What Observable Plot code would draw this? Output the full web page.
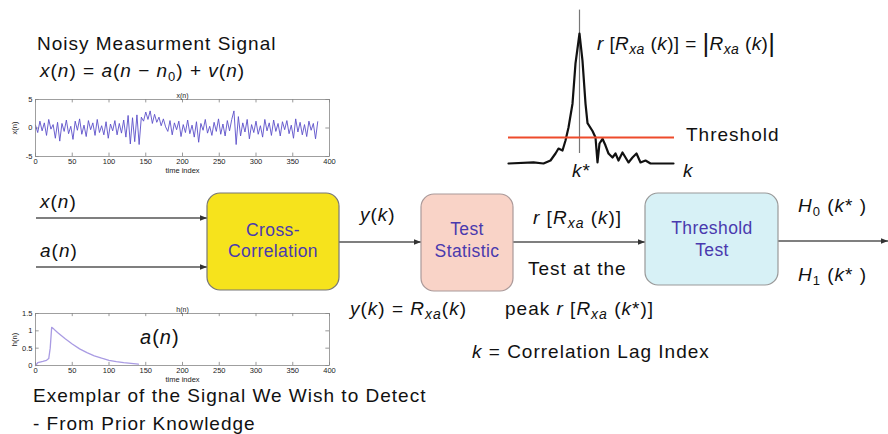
<!DOCTYPE html>
<html><head><meta charset="utf-8">
<script src="https://cdn.jsdelivr.net/npm/d3@7"></script>
<script src="https://cdn.jsdelivr.net/npm/@observablehq/plot@0.6"></script>
<style>
html,body{margin:0;padding:0;background:#fff;}
#wrap{position:relative;width:888px;height:434px;overflow:hidden;font-family:"Liberation Sans",Arial,sans-serif;}
.pl{position:absolute;}
#ov{position:absolute;left:0;top:0;}
#ov text{font-family:"Liberation Sans",Arial,sans-serif;fill:#111;}
</style></head>
<body><div id="wrap"></div>
<script>
// ---- data ----
const xStep = 3; // samples between read values of x(n)
const xSignal = [
 0.5,-0.8,1.2,-0.5,0.9,-1.3,1.5,-0.2,0.6,-1.8,
 1.0,-2.3,0.8,-0.6,1.4,-1.0,0.3,-2.0,1.2,-0.4,
 1.6,-1.1,0.5,-1.5,1.3,-0.3,0.9,-1.3,1.5,-0.8,
 0.4,-1.2,1.1,-1.8,0.7,-0.5,1.3,-1.2,0.8,-0.9,
 1.4,
 -1.6,2.2,-2.8,1.8,-2.4,2.3,-2.9,1.9,
 1.2,2.8,1.5,3.0,0.8,2.4,1.0,1.9,0.4,1.6,0.2,
 -0.6,1.3,-1.2,0.9,-0.3,1.2,-1.5,0.6,-0.8,1.4,
 -1.0,0.5,-1.6,1.1,-2.5,0.8,-0.4,1.5,-0.9,0.3,
 -1.3,1.0,-0.6,1.6,-1.1,0.7,-1.4,1.3,-0.5,1.5,
 3.0,-2.9,2.0,-1.4,0.9,-0.7,1.5,-1.9,0.6,-0.8,
 1.2,-1.1,0.4,-1.6,1.5,-0.5,0.9,-1.3,1.4,-0.6,
 0.8,-1.4,1.1,-0.3,1.3,-1.0,0.5,-1.8,1.6,-0.7,
 1.0,-1.2,0.6,-1.5,1.2,-0.4,0.8,-1.9,1.1
];
const hIndex = [0,3,6,10,15,18,20,22,25,30,40,50,60,70,80,90,100,110,120,130,140];
const hValues = [0,0.08,0.1,0.12,0.15,0.2,0.5,1.1,1.05,0.95,0.78,0.62,0.48,0.37,0.28,0.21,0.15,0.11,0.08,0.06,0.04];
const kLag = [-71,-46,-36,-29,-24,-21,-17,-14,-11,-7,-4,0,3,6,8,13,16,18,20,23,26,29,33,36,39,43,46,49,53,57,61,66,71,84,94];
const rVals = [0,0.008,0,0.023,0.077,0.115,0.1,0.177,0.277,0.46,0.77,1,0.79,0.46,0.31,0.25,0.2,0.008,0.154,0.19,0.138,0.077,0.046,0.077,0.023,0.085,0.046,0.008,0.046,0.077,0.008,0.023,0,0,0];
const threshold = 0.2;
const timeTicks = [0,50,100,150,200,250,300,350,400];
const xTicksY = [-5,0,5];
const hTicksY = [0,0.5,1,1.5];

const wrap = document.getElementById("wrap");
function place(node, left, top){ const d=document.createElement("div"); d.className="pl"; d.style.left=left+"px"; d.style.top=top+"px"; d.appendChild(node); wrap.appendChild(d); }

function smallChart(data, xv, yv, yDomain, yTicks, title, color, h, mt, mb, sw){
  const yFmt = d => String(d);
  const y0 = yDomain[0], y1 = yDomain[1], tl = (y1-y0)*0.06;
  return Plot.plot({
    width:340, height:h, marginLeft:35, marginRight:11, marginTop:mt, marginBottom:mb,
    style:{fontFamily:"Liberation Sans, Arial, sans-serif", fontSize:"7px", background:"transparent", color:"#222"},
    x:{domain:[0,400]}, y:{domain:yDomain},
    marks:[
      Plot.ruleX(timeTicks,{y1:y0,y2:y0+tl,stroke:"#555",strokeWidth:0.6}),
      Plot.ruleX(timeTicks,{y1:y1,y2:y1-tl,stroke:"#555",strokeWidth:0.6}),
      Plot.ruleY(yTicks,{x1:0,x2:5,stroke:"#555",strokeWidth:0.6}),
      Plot.ruleY(yTicks,{x1:395,x2:400,stroke:"#555",strokeWidth:0.6}),
      Plot.line(data,{x:xv,y:yv,stroke:color,strokeWidth:sw}),
      Plot.frame({stroke:"#888",strokeWidth:0.8}),
      Plot.axisX({ticks:timeTicks,tickSize:0,tickPadding:2,fontSize:7.5,label:"time index",labelAnchor:"center",labelArrow:"none",labelOffset:16}),
      Plot.axisY({ticks:yTicks,tickSize:0,tickPadding:3,fontSize:7.5,tickFormat:yFmt,label:title,labelAnchor:"center",labelArrow:"none",labelOffset:24}),
      Plot.text([title],{frameAnchor:"top",dy:-6,fontSize:7})
    ]
  });
}

const xData = xSignal.map((v,i)=>({n:i*xStep, v}));
place(smallChart(xData,"n","v",[-5,5],xTicksY,"x(n)","#5b4fc9",90,14,19,0.9), 0, 85);
const hData = hIndex.map((n,i)=>({n, v:hValues[i]}));
place(smallChart(hData,"n","v",[0,1.5],hTicksY,"h(n)","#a99be3",85,13,20,1.3), 0, 300);

const pData = kLag.map((k,i)=>({k, r:rVals[i]}));
const peak = Plot.plot({
  width:180, height:185, marginLeft:8, marginRight:7, marginTop:7, marginBottom:22,
  style:{background:"transparent"},
  x:{domain:[-71,94], axis:null}, y:{domain:[0,1.2], axis:null},
  marks:[
    Plot.ruleX([0],{y1:0.077,y2:1.18,stroke:"#777",strokeWidth:1.2}),
    Plot.line(pData,{x:"k",y:"r",stroke:"#111",strokeWidth:2.2,strokeLinejoin:"round"}),
    Plot.ruleY([threshold],{x1:-71,x2:95,stroke:"#ee4b2b",strokeWidth:2.2})
  ]
});
place(peak, 500, 0);

// ---- diagram overlay ----
const NS="http://www.w3.org/2000/svg";
const svg=document.createElementNS(NS,"svg");
svg.setAttribute("id","ov"); svg.setAttribute("width",888); svg.setAttribute("height",434);
svg.innerHTML = `
<defs><marker id="ah" viewBox="0 0 10 10" refX="10" refY="5" markerWidth="7" markerHeight="7" orient="auto" markerUnits="userSpaceOnUse"><path d="M0,1 L10,5 L0,9 z" fill="#333"/></marker></defs>
<g stroke="#555" stroke-width="1.3" fill="none">
<line x1="36" y1="218" x2="207" y2="218" marker-end="url(#ah)"/>
<line x1="36" y1="267" x2="207" y2="267" marker-end="url(#ah)"/>
<line x1="339" y1="242" x2="421" y2="242" marker-end="url(#ah)"/>
<line x1="513" y1="242" x2="645" y2="242" marker-end="url(#ah)"/>
<line x1="778" y1="241" x2="888" y2="241" marker-end="url(#ah)"/>
</g>
<rect x="207" y="193" width="132" height="97" rx="13" fill="#f6e31c" stroke="#777" stroke-width="1.2"/>
<rect x="421" y="194" width="92" height="97" rx="13" fill="#f9d3c7" stroke="#a99" stroke-width="1.2"/>
<rect x="645" y="193" width="133" height="92" rx="13" fill="#d7f1f6" stroke="#999" stroke-width="1.2"/>
<g font-size="17.5" text-anchor="middle" letter-spacing="0.4">
<text x="273" y="236" style="fill:#4a3aae">Cross-</text>
<text x="273" y="257" style="fill:#4a3aae">Correlation</text>
<text x="467" y="235" style="fill:#4a3aae">Test</text>
<text x="467" y="257" style="fill:#4a3aae">Statistic</text>
<text x="712" y="234" style="fill:#4a3aae">Threshold</text>
<text x="712" y="256" style="fill:#4a3aae">Test</text>
</g>
<g font-size="19" letter-spacing="1">
<text x="37" y="50">Noisy Measurment Signal</text>
<text x="40" y="77"><tspan font-style="italic">x</tspan>(<tspan font-style="italic">n</tspan>) = <tspan font-style="italic">a</tspan>(<tspan font-style="italic">n</tspan> − <tspan font-style="italic">n</tspan><tspan font-size="13" dy="4">0</tspan><tspan dy="-4">) + </tspan><tspan font-style="italic">v</tspan>(<tspan font-style="italic">n</tspan>)</text>
<text x="40" y="208"><tspan font-style="italic">x</tspan>(<tspan font-style="italic">n</tspan>)</text>
<text x="40" y="257"><tspan font-style="italic">a</tspan>(<tspan font-style="italic">n</tspan>)</text>
<text x="360" y="221"><tspan font-style="italic">y</tspan>(<tspan font-style="italic">k</tspan>)</text>
<text x="533" y="224"><tspan font-style="italic">r</tspan> [<tspan font-style="italic">R</tspan><tspan font-size="14" dy="4" font-style="italic">xa</tspan><tspan dy="-4"> (</tspan><tspan font-style="italic">k</tspan>)]</text>
<text x="528" y="275">Test at the</text>
<text x="798" y="212"><tspan font-style="italic">H</tspan><tspan font-size="13" dy="4">0</tspan><tspan dy="-4"> (</tspan><tspan font-style="italic">k</tspan>* )</text>
<text x="798" y="281"><tspan font-style="italic">H</tspan><tspan font-size="13" dy="4">1</tspan><tspan dy="-4"> (</tspan><tspan font-style="italic">k</tspan>* )</text>
<text x="350" y="315"><tspan font-style="italic">y</tspan>(<tspan font-style="italic">k</tspan>) = <tspan font-style="italic">R</tspan><tspan font-size="14" dy="4" font-style="italic">xa</tspan><tspan dy="-4">(</tspan><tspan font-style="italic">k</tspan>)</text>
<text x="505" y="315">peak <tspan font-style="italic">r</tspan> [<tspan font-style="italic">R</tspan><tspan font-size="14" dy="4" font-style="italic">xa</tspan><tspan dy="-4"> (</tspan><tspan font-style="italic">k</tspan>*)]</text>
<text x="472" y="358"><tspan font-style="italic">k</tspan> = Correlation Lag Index</text>
<text x="33" y="402">Exemplar of the Signal We Wish to Detect</text>
<text x="33" y="430">- From Prior Knowledge</text>
<text x="140" y="344" font-size="20"><tspan font-style="italic">a</tspan>(<tspan font-style="italic">n</tspan>)</text>
<text x="597" y="50" letter-spacing="0.4"><tspan font-style="italic">r</tspan> [<tspan font-style="italic">R</tspan><tspan font-size="14" dy="4" font-style="italic">xa</tspan><tspan dy="-4"> (</tspan><tspan font-style="italic">k</tspan>)] = <tspan font-size="26" dy="2">|</tspan><tspan font-style="italic" dy="-2">R</tspan><tspan font-size="14" dy="4" font-style="italic">xa</tspan><tspan dy="-4"> (</tspan><tspan font-style="italic">k</tspan>)<tspan font-size="26" dy="2">|</tspan></text>
<text x="686" y="141">Threshold</text>
<text x="572" y="177"><tspan font-style="italic">k</tspan>*</text>
<text x="683" y="177" font-style="italic">k</text>
</g>`;
wrap.appendChild(svg);
</script></body></html>
